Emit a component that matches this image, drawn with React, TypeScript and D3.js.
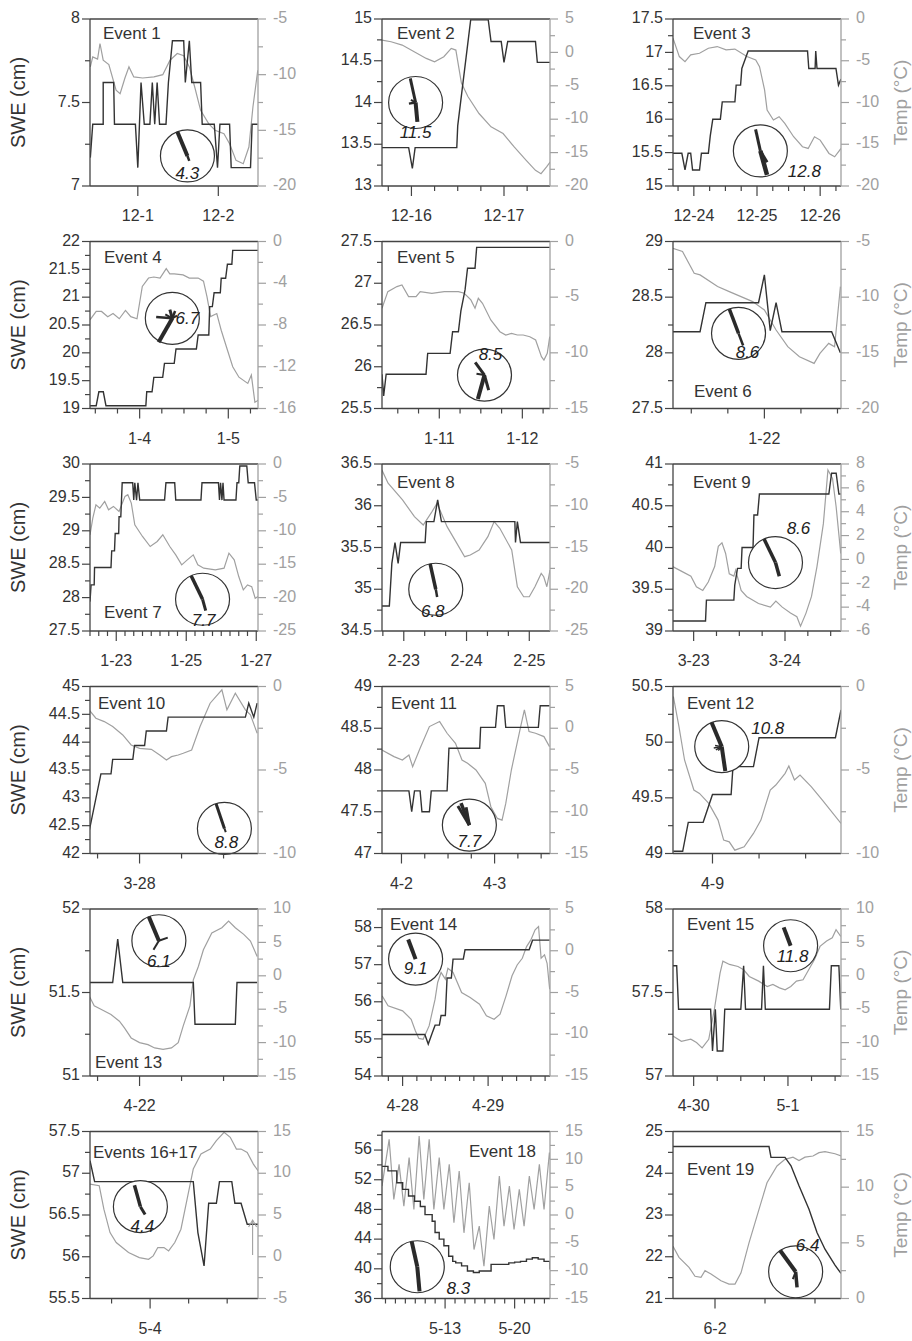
import React from 'react'
import * as d3 from 'd3'

type P = [number, number]

// x = days from the first labelled date of each event, SWE in cm, temperature in °C
const swe1: P[] = [[-0.59,7.17],[-0.56,7.37],[-0.43,7.37],[-0.43,7.62],[-0.30,7.62],[-0.29,7.37],[-0.03,7.37],[0,7.11],[0.04,7.62],[0.08,7.37],[0.15,7.37],[0.18,7.62],[0.21,7.37],[0.24,7.62],[0.27,7.37],[0.35,7.37],[0.38,7.62],[0.43,7.87],[0.57,7.87],[0.59,7.62],[0.64,7.87],[0.67,7.62],[0.78,7.62],[0.80,7.37],[0.95,7.37],[0.99,7.11],[1.02,7.37],[1.14,7.37],[1.16,7.11],[1.40,7.11],[1.42,7.37],[1.49,7.37]]
const temp1: P[] = [[-0.59,-9.3],[-0.56,-8.4],[-0.50,-8.6],[-0.47,-7.2],[-0.43,-8.7],[-0.36,-9.1],[-0.27,-11.4],[-0.22,-11.7],[-0.16,-10.3],[-0.11,-9.3],[-0.05,-10.2],[0.06,-10.3],[0.20,-10.2],[0.31,-10.0],[0.40,-8.7],[0.49,-8.1],[0.57,-8.3],[0.64,-9.3],[0.71,-11.2],[0.78,-13.2],[0.88,-14.4],[0.96,-15.0],[1.07,-15.3],[1.14,-16.2],[1.22,-17.7],[1.31,-18.0],[1.38,-16.5],[1.43,-12.9],[1.49,-9.6]]

const swe2: P[] = [[-0.32,13.46],[-0.03,13.46],[0.01,13.21],[0.04,13.46],[0.49,13.46],[0.50,13.72],[0.64,14.99],[0.83,14.99],[0.86,14.73],[0.97,14.73],[1.0,14.48],[1.04,14.73],[1.34,14.73],[1.36,14.48],[1.50,14.48]]
const temp2: P[] = [[-0.32,1.85],[-0.22,1.6],[-0.10,1.1],[0.03,0.1],[0.16,-0.9],[0.25,-1.4],[0.35,-0.65],[0.43,0.6],[0.48,0.35],[0.54,-4.6],[0.61,-6.6],[0.73,-9.15],[0.86,-11.15],[0.99,-12.15],[1.11,-14.15],[1.24,-16.15],[1.34,-17.65],[1.40,-18.15],[1.46,-17.15],[1.50,-16.4]]

const swe3: P[] = [[-0.33,15.49],[-0.19,15.49],[-0.14,15.24],[-0.09,15.49],[-0.05,15.49],[-0.02,15.24],[0.09,15.24],[0.12,15.49],[0.23,15.49],[0.26,15.75],[0.30,16.0],[0.42,16.0],[0.45,16.26],[0.65,16.26],[0.67,16.51],[0.74,16.51],[0.76,16.76],[0.86,17.02],[1.80,17.02],[1.82,16.76],[1.92,16.76],[1.93,17.02],[1.95,16.76],[2.25,16.76],[2.29,16.51],[2.33,16.6]]
const temp3: P[] = [[-0.33,-2.3],[-0.23,-4.5],[-0.14,-5.1],[-0.05,-4.3],[0.09,-4.1],[0.23,-3.5],[0.37,-3.3],[0.51,-3.7],[0.65,-3.6],[0.84,-4.5],[0.98,-4.9],[1.04,-5.7],[1.12,-8.5],[1.16,-10.9],[1.26,-12.1],[1.35,-11.7],[1.44,-12.5],[1.58,-14.1],[1.72,-15.3],[1.81,-15.5],[1.91,-14.1],[2.0,-14.5],[2.14,-16.1],[2.23,-16.5],[2.33,-15.5]]

const swe4: P[] = [[-0.56,19.05],[-0.49,19.05],[-0.46,19.3],[-0.41,19.3],[-0.38,19.05],[0.07,19.05],[0.08,19.3],[0.14,19.3],[0.16,19.56],[0.26,19.56],[0.28,19.81],[0.39,19.81],[0.41,20.07],[0.64,20.07],[0.66,20.32],[0.78,20.32],[0.79,20.83],[0.82,20.83],[0.84,21.08],[0.91,21.08],[0.92,21.34],[0.97,21.34],[0.99,21.59],[1.04,21.59],[1.05,21.84],[1.34,21.84]]
const temp4: P[] = [[-0.56,-7.5],[-0.49,-6.7],[-0.43,-6.7],[-0.36,-7.2],[-0.30,-6.9],[-0.23,-7.4],[-0.16,-6.6],[-0.10,-7.2],[-0.03,-7.4],[0.03,-4.3],[0.10,-3.5],[0.16,-3.4],[0.23,-3.5],[0.30,-2.6],[0.34,-3.1],[0.39,-3.1],[0.49,-3.2],[0.56,-3.5],[0.66,-3.5],[0.72,-3.8],[0.76,-5.3],[0.80,-7.2],[0.87,-6.9],[0.92,-8.5],[0.99,-10.4],[1.05,-12.0],[1.12,-13.0],[1.22,-13.6],[1.26,-12.8],[1.30,-15.4],[1.34,-15.2]]

const swe5: P[] = [[-0.69,25.91],[-0.67,25.65],[-0.64,25.91],[-0.16,25.91],[-0.14,26.16],[0.13,26.16],[0.16,26.42],[0.23,26.42],[0.26,26.67],[0.31,26.92],[0.34,27.18],[0.43,27.18],[0.45,27.43],[1.33,27.43]]
const temp5: P[] = [[-0.69,-6.0],[-0.62,-4.5],[-0.51,-4.05],[-0.45,-3.9],[-0.37,-4.95],[-0.28,-4.95],[-0.23,-4.5],[-0.09,-4.65],[0.06,-4.5],[0.23,-4.5],[0.30,-4.65],[0.38,-5.25],[0.43,-6.0],[0.47,-5.1],[0.52,-5.55],[0.62,-7.05],[0.73,-8.1],[0.80,-8.4],[0.87,-8.25],[0.94,-8.4],[1.01,-8.4],[1.09,-8.55],[1.16,-8.85],[1.23,-10.35],[1.26,-10.65],[1.30,-10.05],[1.33,-8.55]]

const swe6: P[] = [[-0.63,28.19],[-0.44,28.19],[-0.40,28.45],[-0.04,28.45],[0,28.7],[0.04,28.2],[0.08,28.45],[0.12,28.19],[0.46,28.19],[0.52,28.0]]
const temp6: P[] = [[-0.63,-5.6],[-0.56,-5.9],[-0.48,-7.85],[-0.44,-8.0],[-0.32,-9.05],[-0.24,-9.5],[-0.08,-10.4],[0,-11.15],[0.08,-12.95],[0.16,-14.45],[0.24,-15.35],[0.34,-15.95],[0.38,-15.05],[0.44,-14.15],[0.48,-14.45],[0.52,-9.05]]

const swe7: P[] = [[-0.75,27.94],[-0.72,28.19],[-0.63,28.19],[-0.62,28.45],[-0.15,28.45],[-0.13,28.7],[-0.05,28.7],[-0.03,28.96],[0.07,28.96],[0.08,29.21],[0.13,29.21],[0.17,29.72],[0.47,29.72],[0.5,29.46],[0.53,29.72],[0.58,29.46],[0.62,29.72],[0.67,29.46],[1.38,29.46],[1.42,29.72],[1.67,29.72],[1.70,29.46],[2.42,29.46],[2.45,29.72],[2.92,29.72],[2.95,29.46],[2.98,29.72],[3.02,29.46],[3.05,29.72],[3.08,29.46],[3.42,29.46],[3.45,29.72],[3.5,29.72],[3.53,29.97],[3.73,29.97],[3.77,29.72],[3.95,29.72],[4.0,29.46],[4.05,29.46]]
const temp7: P[] = [[-0.75,-10.6],[-0.67,-8.1],[-0.58,-6.1],[-0.47,-6.6],[-0.33,-5.6],[-0.22,-6.85],[-0.08,-6.35],[0.08,-7.1],[0.25,-4.85],[0.33,-4.6],[0.43,-5.85],[0.53,-9.1],[0.75,-10.85],[0.97,-12.35],[1.17,-11.6],[1.33,-10.6],[1.53,-12.35],[1.70,-13.6],[1.87,-15.1],[2.03,-14.35],[2.2,-13.6],[2.33,-15.1],[2.5,-15.6],[2.83,-15.85],[3.08,-15.6],[3.22,-13.35],[3.37,-14.35],[3.5,-16.85],[3.63,-18.85],[3.75,-18.1],[3.87,-18.35],[3.97,-20.1],[4.05,-19.85]]

const swe8: P[] = [[-0.35,34.8],[-0.23,34.8],[-0.19,35.31],[-0.14,35.56],[-0.09,35.31],[-0.05,35.56],[0.34,35.56],[0.36,35.81],[0.48,35.81],[0.54,36.07],[0.60,35.81],[1.77,35.81],[1.78,35.56],[1.81,35.81],[1.86,35.56],[2.33,35.56]]
const temp8: P[] = [[-0.35,-5.7],[-0.25,-7.3],[-0.02,-9.3],[0.17,-11.3],[0.31,-12.3],[0.45,-10.7],[0.53,-9.7],[0.69,-12.5],[0.83,-14.3],[0.97,-16.1],[1.06,-15.9],[1.20,-15.3],[1.34,-13.7],[1.44,-11.9],[1.53,-12.7],[1.72,-15.3],[1.81,-19.7],[1.91,-20.9],[2.0,-20.9],[2.09,-19.7],[2.19,-18.1],[2.23,-18.5],[2.28,-19.7],[2.33,-17.7]]

const swe9: P[] = [[-0.23,39.12],[0.13,39.12],[0.14,39.37],[0.44,39.37],[0.45,39.55],[0.48,39.75],[0.52,39.75],[0.53,40.0],[0.65,40.0],[0.66,40.39],[0.70,40.39],[0.72,40.64],[1.48,40.64],[1.51,40.89],[1.56,40.89],[1.59,40.64],[1.61,40.64]]
const temp9: P[] = [[-0.23,-0.6],[-0.13,-1.0],[-0.03,-1.4],[0.03,-2.3],[0.10,-2.6],[0.16,-1.9],[0.23,-0.6],[0.27,1.1],[0.31,1.4],[0.35,0.5],[0.39,-1.2],[0.44,-1.4],[0.46,-0.9],[0.52,-2.6],[0.58,-3.1],[0.71,-3.7],[0.84,-4.0],[0.90,-3.5],[0.97,-4.0],[1.06,-4.5],[1.13,-4.8],[1.17,-5.6],[1.23,-4.5],[1.29,-3.1],[1.35,-0.6],[1.42,3.0],[1.47,7.5],[1.52,6.8],[1.56,4.4],[1.61,0.5]]

const swe10: P[] = [[-0.30,42.4],[-0.23,43.43],[-0.17,43.43],[-0.16,43.69],[-0.04,43.69],[-0.03,43.94],[0.03,43.94],[0.04,44.2],[0.16,44.2],[0.17,44.45],[0.63,44.45],[0.65,44.7],[0.68,44.45],[0.70,44.7]]
const temp10: P[] = [[-0.30,-1.4],[-0.26,-1.9],[-0.21,-2.1],[-0.16,-2.4],[-0.10,-2.9],[-0.05,-3.5],[0,-3.7],[0.07,-3.76],[0.12,-4.1],[0.16,-4.4],[0.19,-4.2],[0.23,-4.1],[0.26,-4.0],[0.31,-3.8],[0.36,-2.4],[0.42,-1.0],[0.49,-0.2],[0.52,-1.4],[0.57,-0.4],[0.63,-1.4],[0.66,-1.7],[0.70,-2.8]]

const swe11: P[] = [[-0.21,47.75],[0.08,47.75],[0.11,47.5],[0.14,47.75],[0.20,47.75],[0.22,47.5],[0.30,47.5],[0.32,47.75],[0.49,47.75],[0.51,48.26],[0.84,48.26],[0.85,48.51],[1.01,48.51],[1.03,48.77],[1.10,48.77],[1.12,48.51],[1.47,48.51],[1.49,48.77],[1.59,48.77]]
const temp11: P[] = [[-0.21,-2.6],[-0.08,-3.4],[0.01,-3.8],[0.08,-3.2],[0.12,-4.6],[0.20,-2.4],[0.30,0.2],[0.41,0.8],[0.49,-0.6],[0.58,-1.8],[0.65,-3.8],[0.71,-4.2],[0.80,-5.0],[0.90,-6.6],[0.96,-9.4],[1.03,-10.8],[1.08,-11.0],[1.12,-9.0],[1.18,-5.0],[1.28,0.2],[1.32,2.2],[1.37,-0.4],[1.44,-0.6],[1.53,-1.0],[1.59,-2.2]]

const swe12: P[] = [[-0.21,49.02],[-0.16,49.02],[-0.13,49.28],[-0.05,49.28],[0,49.53],[0.10,49.53],[0.11,49.78],[0.22,49.78],[0.25,50.04],[0.66,50.04],[0.69,50.29]]
const temp12: P[] = [[-0.21,-0.6],[-0.18,-2.4],[-0.15,-4.4],[-0.10,-6.2],[-0.07,-6.4],[-0.02,-7.0],[0.03,-8.0],[0.06,-9.2],[0.09,-9.3],[0.12,-9.8],[0.17,-9.6],[0.22,-8.8],[0.26,-8.0],[0.31,-6.2],[0.34,-5.9],[0.39,-5.2],[0.41,-4.76],[0.44,-5.6],[0.47,-5.3],[0.53,-6.0],[0.59,-6.8],[0.69,-8.2]]

const swe13: P[] = [[-0.30,51.56],[-0.16,51.56],[-0.13,51.82],[-0.10,51.56],[0.32,51.56],[0.33,51.31],[0.57,51.31],[0.58,51.56],[0.70,51.56]]
const temp13: P[] = [[-0.30,-3.0],[-0.27,-4.5],[-0.23,-5.0],[-0.17,-5.8],[-0.12,-6.8],[-0.09,-7.8],[-0.05,-9.3],[0,-10.0],[0.05,-10.3],[0.09,-10.8],[0.14,-11.0],[0.19,-10.8],[0.23,-10.0],[0.26,-7.5],[0.30,-4.5],[0.32,-0.6],[0.35,1.4],[0.38,3.9],[0.43,6.4],[0.49,7.2],[0.53,8.2],[0.57,7.2],[0.62,6.2],[0.66,5.2],[0.70,2.9]]

const swe14: P[] = [[-0.24,55.12],[0.26,55.12],[0.30,54.86],[0.34,55.12],[0.38,55.37],[0.43,55.37],[0.45,55.63],[0.50,55.63],[0.52,56.64],[0.57,56.64],[0.59,57.15],[0.71,57.15],[0.73,57.4],[1.48,57.4],[1.52,57.66],[1.72,57.66]]
const temp14: P[] = [[-0.24,-5.4],[-0.17,-6.6],[0,-7.2],[0.10,-8.2],[0.15,-9.6],[0.19,-10.5],[0.24,-10.6],[0.31,-9.0],[0.38,-5.8],[0.41,-3.8],[0.45,-2.6],[0.50,-3.4],[0.53,-2.1],[0.59,-2.6],[0.69,-5.0],[0.79,-5.6],[0.90,-6.4],[0.98,-7.8],[1.07,-8.2],[1.14,-7.6],[1.21,-5.4],[1.28,-3.0],[1.34,-1.7],[1.40,-0.9],[1.45,0.5],[1.50,1.3],[1.55,2.5],[1.59,2.9],[1.62,-0.9],[1.66,-0.5],[1.69,-1.5],[1.72,-4.6]]

const swe15: P[] = [[-0.22,57.66],[-0.18,57.66],[-0.16,57.4],[0.18,57.4],[0.20,57.15],[0.23,57.4],[0.25,57.15],[0.31,57.15],[0.33,57.4],[0.50,57.4],[0.53,57.66],[0.55,57.4],[0.72,57.4],[0.74,57.66],[0.76,57.4],[1.44,57.4],[1.46,57.66],[1.54,57.66],[1.56,57.4]]
const temp15: P[] = [[-0.22,-9.0],[-0.13,-9.8],[-0.03,-9.5],[0.03,-10.0],[0.09,-10.8],[0.16,-9.5],[0.22,-5.0],[0.28,0.4],[0.31,2.2],[0.38,1.7],[0.47,1.4],[0.53,0.9],[0.59,-0.1],[0.69,-0.8],[0.78,-1.6],[0.84,-1.3],[0.91,-1.8],[0.97,-2.1],[1.03,-1.6],[1.09,-0.8],[1.16,-0.6],[1.22,0.9],[1.28,2.4],[1.34,4.4],[1.41,5.2],[1.47,5.7],[1.51,6.9],[1.56,5.9]]

const swe16: P[] = [[-0.39,57.15],[-0.36,56.9],[0.28,56.9],[0.31,56.29],[0.35,55.89],[0.38,56.64],[0.43,56.64],[0.45,56.9],[0.53,56.9],[0.55,56.64],[0.59,56.64],[0.63,56.39],[0.70,56.39]]
const temp16: P[] = [[-0.39,8.7],[-0.33,8.5],[-0.30,5.7],[-0.26,2.9],[-0.22,1.7],[-0.14,0.5],[-0.07,-0.1],[-0.01,-0.3],[0.02,0.1],[0.05,1.1],[0.09,1.1],[0.12,0.7],[0.16,1.7],[0.20,3.3],[0.24,6.9],[0.28,10.5],[0.33,12.3],[0.39,12.9],[0.43,13.9],[0.48,14.9],[0.52,14.3],[0.56,12.9],[0.59,12.9],[0.63,12.5],[0.67,11.1],[0.70,10.3]]

const swe17: P[] = [[-6.35,53.8],[-5.75,53.2],[-4.86,51.6],[-4.27,50.7],[-3.68,49.8],[-3.08,49.1],[-2.49,48.4],[-2.02,47.3],[-1.30,46.4],[-1.01,44.9],[-0.59,44.0],[-0.12,43.1],[0.36,41.7],[0.77,41.0],[1.07,40.8],[1.66,40.4],[2.25,39.7],[2.85,39.5],[3.44,39.7],[4.03,39.7],[4.63,40.6],[5.22,40.6],[5.81,40.6],[6.41,40.8],[7.0,40.9],[7.59,41.0],[8.19,41.3],[8.78,41.5],[9.37,41.3],[9.96,41.0],[10.56,39.9]]
const temp17: P[] = [[-6.35,5.2],[-5.63,13.6],[-5.16,2.8],[-4.63,9.1],[-4.15,1.6],[-3.62,10.3],[-3.14,1.0],[-2.61,14.2],[-2.14,2.8],[-1.60,13.6],[-1.13,1.0],[-0.59,10.3],[-0.12,1.0],[0.42,9.1],[0.89,-1.4],[1.42,7.9],[1.90,-3.2],[2.43,5.8],[2.91,-6.2],[3.44,-2.0],[3.91,-9.2],[4.45,1.6],[4.92,-4.4],[5.46,7.0],[5.93,-2.0],[6.47,5.2],[6.94,-2.6],[7.47,4.6],[7.95,-2.0],[8.48,7.0],[8.96,1.0],[9.49,9.1],[9.96,1.0],[10.50,11.2],[10.56,10.0]]

const swe18: P[] = [[-0.21,24.64],[0.27,24.64],[0.28,24.38],[0.35,24.38],[0.38,24.18],[0.42,23.7],[0.47,23.14],[0.51,22.58],[0.55,22.18],[0.60,21.8],[0.63,21.6]]
const temp18: P[] = [[-0.21,4.7],[-0.18,3.7],[-0.13,2.8],[-0.10,2.0],[-0.07,1.9],[-0.05,2.5],[-0.02,2.2],[0.03,1.6],[0.07,1.3],[0.10,1.3],[0.13,2.3],[0.17,5.0],[0.22,8.0],[0.26,10.4],[0.31,11.9],[0.35,12.5],[0.39,12.7],[0.42,12.4],[0.45,12.7],[0.49,12.8],[0.52,13.1],[0.55,13.2],[0.60,13.0],[0.63,12.8]]

const sweSeries = [swe1, swe2, swe3, swe4, swe5, swe6, swe7, swe8, swe9, swe10, swe11, swe12, swe13, swe14, swe15, swe16, swe17, swe18]
const tempSeries = [temp1, temp2, temp3, temp4, temp5, temp6, temp7, temp8, temp9, temp10, temp11, temp12, temp13, temp14, temp15, temp16, temp17, temp18]

const eventNames = ['Event 1', 'Event 2', 'Event 3', 'Event 4', 'Event 5', 'Event 6', 'Event 7', 'Event 8', 'Event 9', 'Event 10', 'Event 11', 'Event 12', 'Event 13', 'Event 14', 'Event 15', 'Events 16+17', 'Event 18', 'Event 19']
const windSpeeds = ['4.3', '11.5', '12.8', '6.7', '8.5', '8.6', '7.7', '6.8', '8.6', '8.8', '7.7', '10.8', '6.1', '9.1', '11.8', '4.4', '8.3', '6.4']

const xDomains: P[] = [[-0.594,1.493],[-0.318,1.497],[-0.33,2.33],[-0.56,1.335],[-0.69,1.333],[-0.625,0.524],[-0.75,4.05],[-0.347,2.33],[-0.226,1.613],[-0.295,0.705],[-0.209,1.595],[-0.212,0.69],[-0.295,0.705],[-0.241,1.724],[-0.219,1.5625],[-0.39,0.70],[-6.35,10.56],[-0.21,0.63]]
const dateTicks: [number, string][][] = [
  [[0,'12-1'],[1,'12-2']], [[0,'12-16'],[1,'12-17']], [[0,'12-24'],[1,'12-25'],[2,'12-26']],
  [[0,'1-4'],[1,'1-5']], [[0,'1-11'],[1,'1-12']], [[0,'1-22']],
  [[0,'1-23'],[2,'1-25'],[4,'1-27']], [[0,'2-23'],[1,'2-24'],[2,'2-25']], [[0,'3-23'],[1,'3-24']],
  [[0,'3-28']], [[0,'4-2'],[1,'4-3']], [[0,'4-9']],
  [[0,'4-22']], [[0,'4-28'],[1,'4-29']], [[0,'4-30'],[1,'5-1']],
  [[0,'5-4']], [[0,'5-13'],[7,'5-20']], [[0,'6-2']],
]
const minorSteps = [0, 0.25, 0.25, 0.25, 0.25, 0.25, 0.25, 1 / 3, 0.25, 0.25, 0.25, 0.25, 0.25, 1 / 6, 0.25, 0.25, 1, 0.25]

const sweDomains: P[] = [[7,8],[13,15],[15,17.5],[19,22],[25.5,27.5],[27.5,29],[27.5,30],[34.5,36.5],[39,41],[42,45],[47,49],[49,50.5],[51,52],[54,58.5],[57,58],[55.5,57.5],[36,58.5],[21,25]]
const sweSteps = [0.5, 0.5, 0.5, 0.5, 0.5, 0.5, 0.5, 0.5, 0.5, 0.5, 0.5, 0.5, 0.5, 1, 0.5, 0.5, 4, 1]
const tempDomains: P[] = [[-20,-5],[-20,5],[-20,0],[-16,0],[-15,0],[-20,-5],[-25,0],[-25,-5],[-6,8],[-10,0],[-15,5],[-10,0],[-15,10],[-15,5],[-15,10],[-5,15],[-15,15],[0,15]]
const tempSteps = [5, 5, 5, 4, 5, 5, 5, 5, 2, 5, 5, 5, 5, 5, 5, 5, 5, 5]

// wind rose petals: bearing (deg from north), length as share of radius, stroke width
const roseSpokes: [number, number, number][][] = [
  [[-22,1.0,4],[160,0.2,2.5]],
  [[-12,0.95,3],[175,0.75,4],[-100,0.25,2.5],[-60,0.2,2]],
  [[-12,0.85,3],[165,0.95,4.5],[150,0.5,3]],
  [[209,1.05,4],[275,0.6,2.5],[-15,0.35,3],[20,0.3,2.5],[-60,0.3,2],[60,0.2,2]],
  [[195,0.95,4],[-35,0.6,3],[165,0.6,3],[-80,0.3,2]],
  [[-20,1.0,3.5],[160,0.5,2.5]],
  [[-25,1.0,3.5],[165,0.45,3]],
  [[-12,1.0,3.5],[170,0.3,2.5]],
  [[-25,1.0,3.5],[165,0.55,3.5]],
  [[-18,1.0,3],[160,0.15,2]],
  [[-30,0.85,3],[-20,0.9,3.5],[-10,0.7,3]],
  [[-22,1.0,4],[172,0.95,4],[-100,0.3,1.5],[-120,0.25,1.5],[-80,0.25,1.5],[-140,0.2,1.5]],
  [[-22,1.0,4],[210,0.4,2],[70,0.35,2]],
  [[-20,0.8,4]],
  [[-20,0.75,4]],
  [[-15,0.85,3.5],[150,0.35,3]],
  [[-12,1.0,4],[175,0.95,4]],
  [[-35,1.0,4],[175,0.6,3.5],[200,0.3,2]],
]

// layout (not data): rose centre as share of plot box, speed label offset, event label offset
const rosePos: P[] = [[0.58,0.82],[0.20,0.50],[0.52,0.79],[0.49,0.46],[0.61,0.80],[0.39,0.55],[0.67,0.81],[0.32,0.75],[0.61,0.59],[0.80,0.85],[0.52,0.83],[0.29,0.36],[0.41,0.19],[0.20,0.30],[0.70,0.22],[0.30,0.45],[0.21,0.81],[0.73,0.84]]
const speedOffset: P[] = [[0,19],[0,31],[44,22],[15,1],[6,-20],[9,20],[1,22],[-3,23],[23,-33],[2,15],[0,17],[46,-17],[0,22],[0,10],[2,12],[2,21],[41,23],[12,-25]]
const labelPos: [number, number, string][] = [[13,20,'start'],[15,20,'start'],[20,20,'start'],[14,21,'start'],[15,21,'start'],[21,155,'start'],[14,154,'start'],[15,24,'start'],[20,24,'start'],[8,22,'start'],[9,22,'start'],[14,22,'start'],[5,159,'start'],[8,21,'start'],[14,21,'start'],[3,26,'start'],[154,25,'end'],[14,43,'start']]

const COL_X = [90, 382, 673]
const ROW_Y = [19, 241.5, 464, 686.5, 909, 1131.5]
const PW = 168
const PH = 167
const FONT = '"Liberation Sans", Arial, Helvetica, sans-serif'
const DARK = '#333333'
const GRAY = '#a0a0a0'

const fmt = (v: number) => String(+v.toFixed(2))

function Panel({ i }: { i: number }) {
  const row = Math.floor(i / 3)
  const col = i % 3
  const x0 = COL_X[col]
  const y0 = ROW_Y[row]
  const x = d3.scaleLinear().domain(xDomains[i]).range([x0, x0 + PW])
  const yS = d3.scaleLinear().domain(sweDomains[i]).range([y0 + PH, y0])
  const yT = d3.scaleLinear().domain(tempDomains[i]).range([y0 + PH, y0])

  const sweLine = d3.line<P>().x(d => x(d[0])).y(d => yS(d[1]))
    .curve(i === 16 ? d3.curveStepAfter : d3.curveLinear)
  const tempLine = d3.line<P>().x(d => x(d[0])).y(d => yT(d[1]))

  const [sLo, sHi] = sweDomains[i]
  const sStep = sweSteps[i]
  const sMajor = d3.range(sLo, sHi + 1e-6, sStep)
  const sMinor = d3.range(sLo + sStep / 2, sHi + 1e-6, sStep)
  const [tLo, tHi] = tempDomains[i]
  const tStep = tempSteps[i]
  const tMajor = d3.range(tLo, tHi + 1e-6, tStep)
  const tMinor = d3.range(tLo + tStep / 2, tHi + 1e-6, tStep)

  const [d0, d1] = xDomains[i]
  const ms = minorSteps[i]
  const xMinor = ms > 0
    ? d3.range(Math.ceil(d0 / ms - 1e-6) * ms, d1 + 1e-6, ms)
        .filter(t => !dateTicks[i].some(([m]) => Math.abs(m - t) < 1e-6))
    : []

  const clipId = `clip-${i}`
  const [fx, fy] = rosePos[i]
  const cx = x0 + fx * PW
  const cy = y0 + fy * PH
  const rx = 27
  const ry = 26
  const [lx, ly, anchor] = labelPos[i]
  const bottom = y0 + PH
  const right = x0 + PW

  return (
    <g>
      <defs>
        <clipPath id={clipId}>
          <rect x={x0} y={y0} width={PW} height={PH} />
        </clipPath>
      </defs>
      <g clipPath={`url(#${clipId})`}>
        <path d={tempLine(tempSeries[i]) || ''} fill="none" stroke={GRAY} strokeWidth={1.2} />
        <path d={sweLine(sweSeries[i]) || ''} fill="none" stroke={DARK} strokeWidth={1.4} />
      </g>

      {i === 15 && (
        <g stroke={GRAY} strokeWidth={1.1} fill="none">
          <line x1={x(0.665)} x2={x(0.665)} y1={yT(0.2)} y2={yT(4.4)} />
          <polyline points={`${x(0.665) - 4},${yT(4.4) + 7} ${x(0.665)},${yT(4.4)} ${x(0.665) + 4},${yT(4.4) + 7}`} />
        </g>
      )}

      {/* wind rose */}
      <ellipse cx={cx} cy={cy} rx={rx} ry={ry} fill="white" stroke={DARK} strokeWidth={1.2} />
      {roseSpokes[i].map(([b, f, w], k) => {
        const a = (b * Math.PI) / 180
        return (
          <line key={k} x1={cx} y1={cy} x2={cx + Math.sin(a) * f * rx} y2={cy - Math.cos(a) * f * ry}
            stroke="#2a2a2a" strokeWidth={w} strokeLinecap="butt" />
        )
      })}
      <text x={cx + speedOffset[i][0]} y={cy + speedOffset[i][1]} textAnchor="middle" dominantBaseline="middle"
        fontStyle="italic" fontSize={17} fill="#222">{windSpeeds[i]}</text>

      <text x={x0 + lx} y={y0 + ly} textAnchor={anchor as any} fontSize={17} fill={DARK}>{eventNames[i]}</text>

      {/* frame */}
      <line x1={x0} x2={right} y1={y0} y2={y0} stroke="#444" strokeWidth={1.6} />
      <line x1={x0} x2={right} y1={bottom} y2={bottom} stroke="#444" strokeWidth={1.3} />
      <line x1={x0} x2={x0} y1={y0} y2={bottom} stroke="#444" strokeWidth={1.3} />
      <line x1={right} x2={right} y1={y0} y2={bottom} stroke={GRAY} strokeWidth={1.3} />

      {/* SWE axis */}
      {sMajor.map(v => (
        <g key={`sm${v}`}>
          <line x1={x0 - 8} x2={x0} y1={yS(v)} y2={yS(v)} stroke="#444" strokeWidth={1.2} />
          <text x={x0 - 10} y={yS(v)} textAnchor="end" dominantBaseline="middle" fontSize={16} fill={DARK}>{fmt(v)}</text>
        </g>
      ))}
      {sMinor.map(v => (
        <line key={`sn${v}`} x1={x0 - 5} x2={x0} y1={yS(v)} y2={yS(v)} stroke="#444" strokeWidth={1.2} />
      ))}

      {/* temperature axis */}
      {tMajor.map(v => (
        <g key={`tm${v}`}>
          <line x1={right} x2={right + 8} y1={yT(v)} y2={yT(v)} stroke={GRAY} strokeWidth={1.2} />
          <text x={right + 15} y={yT(v)} textAnchor="start" dominantBaseline="middle" fontSize={16} fill={GRAY}>{fmt(v)}</text>
        </g>
      ))}
      {tMinor.map(v => (
        <line key={`tn${v}`} x1={right} x2={right + 5} y1={yT(v)} y2={yT(v)} stroke={GRAY} strokeWidth={1.2} />
      ))}

      {/* date axis */}
      {xMinor.map(t => (
        <line key={`xn${t}`} x1={x(t)} x2={x(t)} y1={bottom} y2={bottom + 5} stroke="#444" strokeWidth={1.2} />
      ))}
      {dateTicks[i].map(([t, lab]) => (
        <g key={`xm${lab}`}>
          <line x1={x(t)} x2={x(t)} y1={bottom} y2={bottom + 10} stroke="#444" strokeWidth={1.2} />
          <text x={x(t)} y={bottom + 31} textAnchor="middle" dominantBaseline="middle" fontSize={16} fill={DARK}>{lab}</text>
        </g>
      ))}

      {col === 0 && (
        <text transform={`translate(20,${y0 + PH / 2}) rotate(-90)`} textAnchor="middle" dominantBaseline="middle"
          fontSize={20} fill={DARK}>SWE (cm)</text>
      )}
      {col === 2 && (
        <text transform={`translate(902,${y0 + PH / 2}) rotate(-90)`} textAnchor="middle" dominantBaseline="middle"
          fontSize={19} fill={GRAY}>Temp (°C)</text>
      )}
    </g>
  )
}

export default function App() {
  return (
    <svg width={912} height={1341} style={{ position: 'absolute', left: 0, top: 0, background: 'white' }}
      fontFamily={FONT}>
      <rect width={912} height={1341} fill="white" />
      {sweSeries.map((_, i) => <Panel key={i} i={i} />)}
    </svg>
  )
}
